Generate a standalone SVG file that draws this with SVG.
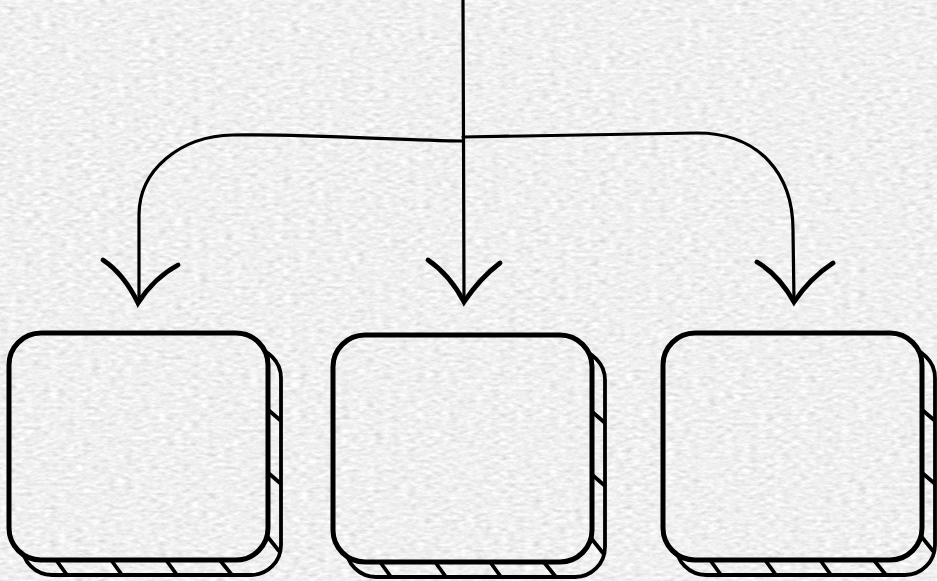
<svg xmlns="http://www.w3.org/2000/svg" width="937" height="581" viewBox="0 0 937 581">
<style>
.front{fill:none;stroke:#000;stroke-width:5}
.back{fill:none;stroke:#000;stroke-width:3.8}
.hatch{stroke:#000;stroke-width:3.8;stroke-linecap:round}
.conn{fill:none;stroke:#000;stroke-width:3.2;stroke-linecap:round;stroke-linejoin:round}
.head{fill:none;stroke:#000;stroke-width:4.8;stroke-linecap:round;stroke-linejoin:miter}
</style>
<defs>
<filter id="paper" x="0" y="0" width="100%" height="100%">
<feTurbulence type="fractalNoise" baseFrequency="0.12 0.3" numOctaves="5" seed="7"/>
<feColorMatrix type="matrix" values="0.33 0.33 0.33 0 0  0.33 0.33 0.33 0 0  0.33 0.33 0.33 0 0  0 0 0 0 1"/>
<feComponentTransfer>
<feFuncR type="linear" slope="0.75" intercept="0.5"/>
<feFuncG type="linear" slope="0.75" intercept="0.5"/>
<feFuncB type="linear" slope="0.75" intercept="0.5"/>
</feComponentTransfer>
</filter>
<mask id="cut">
<rect x="-20" y="-20" width="320" height="290" fill="#fff"/>
<rect x="0" y="0" width="259" height="227" rx="32" fill="#000"/>
</mask>
<g id="boxshape">
<g mask="url(#cut)">
<rect class="back" x="13" y="15" width="259" height="227" rx="30"/>
<line class="hatch" x1="250" y1="69" x2="271" y2="87"/>
<line class="hatch" x1="250" y1="132" x2="271" y2="150"/>
<line class="hatch" x1="250" y1="193" x2="270" y2="218"/>
<line class="hatch" x1="42" y1="220" x2="58" y2="242"/>
<line class="hatch" x1="97" y1="220" x2="113" y2="242"/>
<line class="hatch" x1="152" y1="220" x2="168" y2="242"/>
<line class="hatch" x1="205" y1="220" x2="223" y2="242"/>
</g>
<rect class="front" x="0" y="0" width="259" height="227" rx="32"/>
</g>
</defs>
<rect width="937" height="581" fill="#dcdcdc"/>
<rect width="937" height="581" filter="url(#paper)"/>
<g id="connectors">
<path class="conn" d="M463,0 L463.5,140 L464,300"/>
<path class="conn" d="M463,141 C400,140 300,134 233,135 C180,136 139,170 139,215 L139,302"/>
<path class="conn" d="M463,137 L697,133 C760,133 793,175 793,230 L794,301"/>
<path class="head" d="M103,260 Q124,274 138,303 Q154,278 178,265"/>
<path class="head" d="M428,260 Q450,275 464,302 Q480,278 500,263"/>
<path class="head" d="M757,262 Q779,275 794,302 Q810,278 833,263"/>
</g>
<g id="box1"><use href="#boxshape" transform="translate(9,333)"/></g>
<g id="box2"><use href="#boxshape" transform="translate(333,335)"/></g>
<g id="box3"><use href="#boxshape" transform="translate(663,333)"/></g>
</svg>
